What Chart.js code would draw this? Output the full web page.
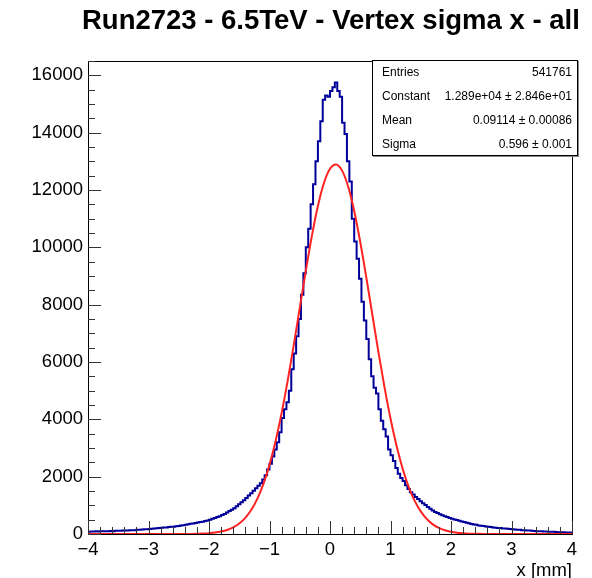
<!DOCTYPE html>
<html>
<head>
<meta charset="utf-8">
<script src="https://cdn.jsdelivr.net/npm/chart.js@4.4.1/dist/chart.umd.min.js"></script>
<style>
  html, body { margin: 0; padding: 0; background: #fff; }
  canvas { display: block; }
</style>
</head>
<body>
<canvas id="chart" width="592" height="578"></canvas>
<script>
const TITLE = 'Run2723 - 6.5TeV - Vertex sigma x - all';
const X_TITLE = 'x [mm]';
const FONT = '"Liberation Sans", Arial, Helvetica, sans-serif';

// histogram: 200 bins of 0.04 mm from -4 to 4
const BIN_LOW = -4;
const BIN_WIDTH = 0.04;
const counts = [
  85, 80, 90, 85, 95, 90, 95, 100, 95, 100,
  105, 100, 110, 115, 110, 120, 125, 120, 130, 135,
  130, 145, 150, 155, 165, 170, 175, 185, 190, 200,
  205, 215, 225, 230, 240, 250, 255, 270, 280, 295,
  305, 320, 340, 355, 370, 385, 400, 420, 430, 450,
  475, 500, 530, 560, 590, 620, 660, 700, 750, 800,
  850, 900, 970, 1040, 1110, 1180, 1260, 1340, 1420, 1510,
  1600, 1680, 1770, 1900, 2050, 2250, 2450, 2700, 2950, 3200,
  3550, 4050, 4350, 4600, 5000, 5750, 6300, 6900, 7500, 8350,
  9100, 10000, 10650, 11500, 12200, 13000, 13700, 14400, 15150, 15300,
  15250, 15450, 15580, 15750, 15450, 15250, 14350, 13950, 13000, 12300,
  11000, 10200, 9600, 8900, 8100, 7450, 6800, 6100, 5500, 5100,
  4900, 4350, 3950, 3650, 3400, 2950, 2750, 2550, 2300, 2100,
  1950, 1850, 1700, 1570, 1460, 1380, 1290, 1220, 1140, 1070,
  1010, 940, 880, 820, 770, 730, 690, 650, 620, 590,
  560, 535, 510, 490, 460, 440, 415, 395, 375, 350,
  335, 320, 300, 290, 275, 260, 250, 240, 230, 220,
  210, 205, 195, 190, 180, 175, 165, 160, 150, 145,
  135, 130, 125, 120, 110, 105, 100, 95, 95, 90,
  85, 80, 75, 75, 70, 65, 60, 60, 55, 50
];

// gaussian fit curve
const fitX = [-4, -3, -2.6, -2.5, -2.4, -2.3, -2.2, -2.1, -2.0, -1.9, -1.8, -1.7,
  -1.6, -1.5, -1.4, -1.3, -1.2, -1.1, -1.0, -0.9, -0.8, -0.7,
  -0.6, -0.5, -0.4, -0.3, -0.2, -0.1, 0.0, 0.1, 0.2, 0.3,
  0.4, 0.5, 0.6, 0.7, 0.8, 0.9, 1.0, 1.1, 1.2, 1.3,
  1.4, 1.5, 1.6, 1.7, 1.8, 1.9, 2.0, 2.1, 2.2, 2.3,
  2.4, 2.5, 2.6, 2.7, 3, 4];
const fitY = [0, 0, 0.5, 1, 2, 4, 8, 15, 27, 49, 84, 141,
  230, 365, 564, 846, 1234, 1749, 2412, 3233, 4215, 5343,
  6580, 7882, 9179, 10393, 11441, 12244, 12740, 12889, 12676, 12122,
  11270, 10187, 8952, 7649, 6355, 5132, 4029, 3076, 2283, 1647,
  1156, 789, 523, 337, 211, 129, 76, 44, 25, 13,
  7, 4, 2, 1, 0, 0];

const Y_MAX = 16500;
const yTicks = [0, 2000, 4000, 6000, 8000, 10000, 12000, 14000, 16000];
const xTicks = [-4, -3, -2, -1, 0, 1, 2, 3, 4];
const statsLabels = ['Entries', 'Constant', 'Mean', 'Sigma'];
const statsValues = ['541761', '1.289e+04 \u00b1 2.846e+01', '0.09114 \u00b1 0.00086', '0.596 \u00b1 0.001'];

const histPoints = counts.map((c, i) => ({ x: BIN_LOW + i * BIN_WIDTH, y: c }));
histPoints.push({ x: BIN_LOW + counts.length * BIN_WIDTH, y: counts[counts.length - 1] });
const fitPoints = fitX.map((x, i) => ({ x, y: fitY[i] }));

// ROOT-style frame, inner ticks, title, stats box
const rootDecor = {
  id: 'rootDecor',
  afterDraw(chart) {
    const { ctx, chartArea: a, scales } = chart;
    const sx = scales.x, sy = scales.y;
    ctx.save();

    ctx.strokeStyle = '#000';
    ctx.lineWidth = 1;
    ctx.strokeRect(a.left + 0.5, a.top + 0.5, a.right - a.left, a.bottom - a.top);

    ctx.strokeStyle = '#333';
    ctx.beginPath();
    for (let v = 0; v <= Y_MAX; v += 500) {
      const py = Math.round(sy.getPixelForValue(v)) + 0.5;
      const len = v % 2000 === 0 ? 13 : 7;
      ctx.moveTo(a.left, py);
      ctx.lineTo(a.left + len, py);
    }
    for (let k = 0; k <= 40; k++) {
      const px = Math.round(sx.getPixelForValue(-4 + k * 0.2)) + 0.5;
      const len = k % 5 === 0 ? 13 : 7;
      ctx.moveTo(px, a.bottom);
      ctx.lineTo(px, a.bottom - len);
    }
    ctx.stroke();

    ctx.fillStyle = '#000';
    ctx.font = 'bold 27.5px ' + FONT;
    ctx.textAlign = 'left';
    ctx.textBaseline = 'alphabetic';
    ctx.fillText(TITLE, 82, 29);

    ctx.font = '18.5px ' + FONT;
    ctx.textAlign = 'right';
    ctx.fillText(X_TITLE, a.right, 576);

    // stats box
    const bx = 372, by = 60, bw = 206, bh = 96;
    ctx.fillStyle = '#888';
    ctx.fillRect(bx + 1, by + 1, bw, bh);
    ctx.fillStyle = '#fff';
    ctx.fillRect(bx, by, bw, bh);
    ctx.strokeStyle = '#000';
    ctx.strokeRect(bx + 0.5, by + 0.5, bw - 1, bh - 1);
    ctx.fillStyle = '#000';
    ctx.font = '12px ' + FONT;
    ctx.textBaseline = 'middle';
    statsLabels.forEach((lab, i) => {
      const ty = by + 13 + i * 24;
      ctx.textAlign = 'left';
      ctx.fillText(lab, bx + 10, ty);
      ctx.textAlign = 'right';
      ctx.fillText(statsValues[i], bx + bw - 6, ty);
    });
    ctx.restore();
  }
};

new Chart(document.getElementById('chart'), {
  type: 'line',
  data: {
    datasets: [
      {
        label: 'gaus',
        data: fitPoints,
        borderColor: 'rgb(255,35,35)',
        borderWidth: 2,
        pointRadius: 0,
        cubicInterpolationMode: 'monotone',
        order: 0
      },
      {
        label: 'hist',
        data: histPoints,
        borderColor: '#000099',
        borderWidth: 2,
        pointRadius: 0,
        stepped: 'after',
        order: 1
      }
    ]
  },
  options: {
    responsive: false,
    animation: false,
    layout: { padding: { left: 0, right: 20, top: 61, bottom: 0 } },
    plugins: { legend: { display: false }, tooltip: { enabled: false } },
    scales: {
      x: {
        type: 'linear',
        min: -4,
        max: 4,
        grid: { display: false, drawTicks: false },
        border: { display: false },
        afterBuildTicks: s => { s.ticks = xTicks.map(v => ({ value: v })); },
        ticks: {
          padding: 5,
          color: '#000',
          font: { family: FONT, size: 18.5 },
          maxRotation: 0,
          autoSkip: false,
          callback: v => String(v).replace('-', '\u2212')
        },
        afterFit: s => { s.height = 44; }
      },
      y: {
        min: 0,
        max: Y_MAX,
        grid: { display: false, drawTicks: false },
        border: { display: false },
        afterBuildTicks: s => { s.ticks = yTicks.map(v => ({ value: v })); },
        ticks: {
          padding: 5,
          color: '#000',
          autoSkip: false,
          font: { family: FONT, size: 18.5 },
          callback: v => String(v)
        },
        afterFit: s => { s.width = 88; }
      }
    }
  },
  plugins: [rootDecor]
});
</script>
</body>
</html>
